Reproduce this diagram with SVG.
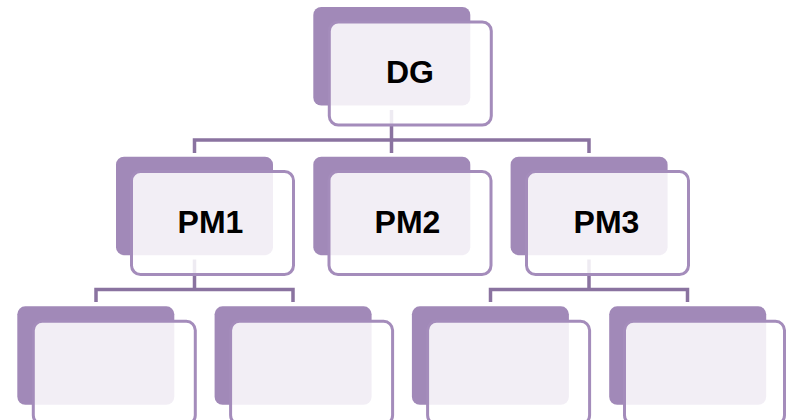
<svg xmlns="http://www.w3.org/2000/svg" width="786" height="420" viewBox="0 0 786 420">
<style>
.back{fill:#a189b8}
.front{fill:#ffffff;fill-opacity:0.86;stroke:#a48cbb;stroke-width:3}
.conn{fill:none;stroke:#8a73a0;stroke-width:3.5}
.lbl{font-family:"Liberation Sans",Arial,sans-serif;font-weight:bold;font-size:32px;fill:#000;text-anchor:middle}
</style>
<rect width="786" height="420" fill="#ffffff"/>
<g id="connectors">
<path class="conn" d="M391.5 110V140M194.5 153V140H589V153M391.5 140V153"/>
<path class="conn" d="M194.5 259.5V289.5M96 302V289.5H293V302"/>
<path class="conn" d="M589 259.5V289.5M490.5 302V289.5H687.5V302"/>
</g>
<g id="DG">
<rect class="back" x="313.3" y="7" width="157" height="98.5" rx="8"/>
<rect class="front" x="329.3" y="22" width="162" height="103" rx="9"/>
<text class="lbl" x="410" y="83">DG</text>
</g>
<g id="PM1">
<rect class="back" x="116" y="156.7" width="157" height="98.5" rx="8"/>
<rect class="front" x="131.5" y="171.5" width="162" height="103" rx="9"/>
<text class="lbl" x="210.5" y="232.5">PM1</text>
</g>
<g id="PM2">
<rect class="back" x="313.3" y="156.7" width="157" height="98.5" rx="8"/>
<rect class="front" x="329" y="171.5" width="162" height="103" rx="9"/>
<text class="lbl" x="407.5" y="232.5">PM2</text>
</g>
<g id="PM3">
<rect class="back" x="510.6" y="156.7" width="157" height="98.5" rx="8"/>
<rect class="front" x="526.5" y="171.5" width="162" height="103" rx="9"/>
<text class="lbl" x="606.5" y="232.5">PM3</text>
</g>
<g id="C1">
<rect class="back" x="17.3" y="306.3" width="157" height="98.5" rx="8"/>
<rect class="front" x="33.3" y="321.3" width="162" height="103" rx="9"/>
</g>
<g id="C2">
<rect class="back" x="214.6" y="306.3" width="157" height="98.5" rx="8"/>
<rect class="front" x="230.6" y="321.3" width="162" height="103" rx="9"/>
</g>
<g id="C3">
<rect class="back" x="411.9" y="306.3" width="157" height="98.5" rx="8"/>
<rect class="front" x="427.6" y="321.3" width="162" height="103" rx="9"/>
</g>
<g id="C4">
<rect class="back" x="609.2" y="306.3" width="157" height="98.5" rx="8"/>
<rect class="front" x="624.5" y="321.3" width="160" height="103" rx="9"/>
</g>
</svg>
